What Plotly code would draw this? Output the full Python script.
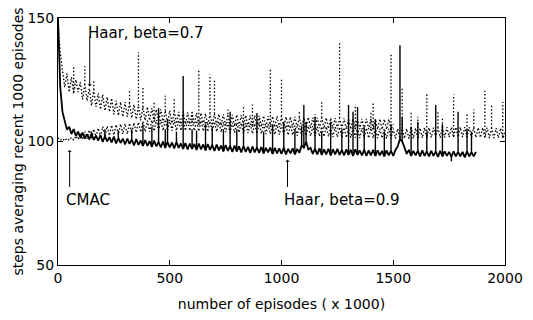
import numpy as np
import plotly.graph_objects as go

step = 10

# ---- Haar, beta=0.9 (solid) : samples every 10 (x1000 episodes) ----
haar09 = [150, 122, 112, 108.5, 104.8, 106, 103, 105, 102.2, 104,
          101.4, 103.6, 101.2, 103, 100.8, 103.2, 100.6, 102.4, 100.4, 102.6,
          99.8, 102.2, 100, 101.8, 99.6, 102, 99.2, 101.4, 99.4, 101.2,
          98.8, 101.2, 99, 100.8, 98.4, 101, 98.6, 100.4, 98.2, 100.6,
          98.2, 100.2, 97.8, 100.4, 98, 99.8, 97.6, 100, 97.4, 99.8,
          97.6, 99.6, 97.2, 99.8, 97.4, 99.2, 97, 99.4, 96.8, 99.2,
          97, 99, 96.6, 99.2, 96.8, 98.8, 96.4, 99, 96.6, 98.6,
          96.2, 98.8, 96.4, 98.4, 96, 98.6, 96.2, 98.2, 95.8, 98.4,
          96, 98, 95.6, 98.2, 95.8, 97.8, 95.4, 98, 95.6, 97.6,
          95.4, 97.8, 95.2, 97.4, 95.6, 97.6, 95, 97.4, 95.2, 97.2,
          95, 97.4, 94.8, 97, 95.2, 97.2, 94.8, 97, 95.4, 98.4,
          97.5, 100, 96.8, 97.4, 95, 97, 94.8, 97.2, 94.6, 96.8,
          94.8, 97, 94.4, 96.8, 94.8, 97, 94.6, 96.6, 94.4, 96.8,
          94.6, 96.6, 94.2, 96.8, 94.6, 96.4, 94.4, 96.6, 94.2, 96.4,
          94.4, 96.6, 94.2, 96.4, 94.4, 96.2, 94, 96.4, 94.4, 96.2,
          94.2, 96.6, 98, 101, 100, 97.6, 95, 96.6, 94.2, 96.2,
          94.4, 96.2, 94, 96.4, 94.2, 96, 94, 96.2, 94.2, 96,
          93.8, 96.2, 94, 96, 94.2, 95.8, 93.8, 96, 94, 95.8,
          94, 95.8, 93.6, 96, 94, 95.6, 94, 95.8]
spike09_x = [150, 210, 270, 330, 380, 420, 450, 480, 490, 530, 560, 600, 620, 660, 690,
             740, 770, 800, 830, 890, 920, 960, 1010, 1060, 1090, 1100, 1110, 1150, 1180,
             1220, 1270, 1300, 1320, 1340, 1370, 1420, 1460, 1490, 1530, 1540, 1580, 1610,
             1650, 1690, 1720, 1760, 1790, 1830, 1850]
spike09_top = [104, 105, 104.5, 105, 107, 106, 113.5, 105, 109, 104, 126.5, 105, 104.5, 107, 106,
               105, 112, 105, 106, 111.5, 104, 107, 108, 105, 106, 114.8, 108, 110, 104,
               108, 105, 114.8, 112, 114, 106, 109, 104, 107, 139, 110, 106, 108,
               104, 114.8, 107, 92, 112, 105, 104]

# ---- Haar, beta=0.7 (dotted) ----
haar07 = [148, 136, 129, 122, 127.5, 120, 126, 119.5, 125, 120,
          124, 117, 123, 116.5, 121.5, 114.5, 121, 114, 119.5, 113,
          119, 112.5, 118, 112, 117.5, 111, 116.5, 110.5, 116, 110,
          116, 110, 115.5, 109.5, 115, 109, 114.5, 108.5, 114, 108.5,
          114, 108.5, 113.5, 108, 113, 107.8, 113, 107.5, 112.5, 107.5,
          112.5, 107.4, 112.2, 107.2, 112, 107, 112, 107, 111.8, 107,
          111.8, 107, 111.6, 106.8, 111.5, 106.8, 111.4, 106.6, 111.3, 106.6,
          111.2, 106.6, 111.1, 106.5, 111, 106.4, 111, 106.4, 110.8, 106.2,
          110.8, 106.2, 110.7, 106.2, 110.6, 106, 110.6, 106, 110.5, 106,
          110.4, 106, 110.4, 105.8, 110.3, 105.8, 110.2, 105.8, 110.2, 105.8,
          110.2, 105.8, 110, 105.6, 110, 105.6, 110, 105.6, 109.8, 105.6,
          109.8, 105.4, 109.8, 105.4, 109.7, 105.4, 109.6, 105.4, 109.6, 105.2,
          109.6, 105.2, 109.5, 105.2, 109.5, 105.2, 109.4, 105.2, 109.4, 105,
          109.4, 105, 109.3, 105, 109.3, 105, 109.2, 105, 109.2, 105,
          109.2, 104.9, 109.1, 104.9, 109.1, 104.9, 109, 104.9, 109, 104.8,
          107]
spike07_x = [70, 120, 160, 320, 360, 380, 430, 480, 520, 630, 680, 700, 760, 830, 870,
             950, 1000, 1080, 1180, 1260, 1330, 1410, 1490]
spike07_top = [131, 130.5, 125, 120.5, 136, 122, 116, 118.5, 117.4, 128.8, 127, 125.4, 113, 114, 115,
               129, 125.4, 112, 116.6, 140.5, 115, 116, 135.6]

# ---- CMAC (dotted) ----
cmac = [101.5, 100.5, 101.2, 100.3, 101.3, 100.5, 101.6, 100.6, 102.2, 100.8,
        103.4, 100.8, 104, 101.2, 104.6, 101.4, 105, 101.8, 105.4, 102,
        106, 102, 106.2, 102.4, 106.6, 102.6, 106.8, 102.8, 107, 103,
        107.2, 103, 107.4, 103.2, 107.6, 103.6, 107.8, 103.8, 108.2, 104,
        108.4, 104, 108.6, 104.2, 108.8, 104.4, 108.8, 104.4, 108.8, 104.4,
        108.8, 104.4, 108.8, 104.4, 108.6, 104.4, 108.6, 104.4, 108.6, 104.4,
        108.6, 104.4, 108.4, 104.2, 108.4, 104.2, 108.2, 104, 108.2, 104,
        108, 104, 108, 103.8, 107.8, 103.8, 107.8, 103.6, 107.6, 103.6,
        107.6, 103.6, 107.4, 103.4, 107.4, 103.4, 107.2, 103.2, 107.2, 103.2,
        107.2, 103.2, 107, 103, 107, 103, 106.8, 102.8, 106.8, 102.8,
        106.8, 102.8, 106.6, 102.6, 106.6, 102.6, 106.4, 102.4, 106.4, 102.4,
        106.4, 102.4, 106.2, 102.2, 106.2, 102.2, 106, 102, 106, 102,
        106, 102, 105.8, 101.8, 105.8, 101.8, 105.8, 101.6, 105.6, 101.6,
        105.6, 101.6, 105.6, 101.6, 105.6, 101.4, 105.4, 101.4, 105.4, 101.4,
        105.4, 101.4, 105.4, 101.4, 105.2, 101.4, 105.2, 101.2, 105.2, 101.2,
        105.2, 101.2, 105.2, 101.2, 105.2, 101.2, 105.2, 101.2, 105.4, 101.2,
        105.4, 101.2, 105.4, 101.4, 105.6, 101.4, 105.6, 101.6, 105.6, 101.6,
        105.6, 101.6, 105.8, 101.6, 105.8, 101.8, 105.8, 101.8, 105.8, 101.8,
        105.8, 101.8, 105.8, 101.8, 105.8, 101.6, 105.6, 101.6, 105.6, 101.6,
        105.6, 101.6, 105.6, 101.4, 105.4, 101.4, 105.4, 101.4, 105.4, 101.4,
        103.5]
spikec_x = [600, 900, 1150, 1400, 1540, 1580, 1610, 1650, 1700, 1720, 1770, 1830, 1860,
            1910, 1940, 1990]
spikec_top = [112, 110, 111, 112, 122, 112, 110, 119, 112, 110, 119, 111, 113,
              120.5, 114.8, 116]

x_ticks = [0, 500, 1000, 1500, 2000]
y_ticks = [50, 100, 150]

FONT = "DejaVu Sans"


def xs(n):
    return np.arange(n) * step


def spike_segments(base, sx, stop):
    px, py = [], []
    for x, t in zip(sx, stop):
        px += [x, x, None]
        py += [base[x // step], t, None]
    return px, py


fig = go.Figure()
DOT = "1.5px,2px"
for base, sx, st in [(cmac, spikec_x, spikec_top), (haar07, spike07_x, spike07_top)]:
    fig.add_trace(go.Scatter(x=xs(len(base)), y=base, mode="lines",
                             line=dict(color="black", width=1.3, dash=DOT)))
    px, py = spike_segments(base, sx, st)
    fig.add_trace(go.Scatter(x=px, y=py, mode="lines",
                             line=dict(color="black", width=1.3, dash=DOT)))

fig.add_trace(go.Scatter(x=xs(len(haar09)), y=haar09, mode="lines",
                         line=dict(color="black", width=1.8)))
px, py = spike_segments(haar09, spike09_x, spike09_top)
fig.add_trace(go.Scatter(x=px, y=py, mode="lines", line=dict(color="black", width=1.4)))

tf = dict(size=14, family=FONT, color="black")
af = dict(size=15, family=FONT, color="black")
fig.add_annotation(x=124, y=143.8, text="Haar, beta=0.7", showarrow=False,
                   xanchor="left", yanchor="middle", font=af)
fig.add_annotation(x=29, y=76.5, text="CMAC", showarrow=False,
                   xanchor="left", yanchor="middle", font=af)
fig.add_annotation(x=1004, y=76.5, text="Haar, beta=0.9", showarrow=False,
                   xanchor="left", yanchor="middle", font=af)
arrows = [(142, 122.3, 142, 143), (52, 96.6, 52, 81), (1027, 92.7, 1027, 81)]
for hx, hy, tx, ty in arrows:
    fig.add_annotation(x=hx, y=hy, ax=tx, ay=ty, axref="x", ayref="y", text="",
                       showarrow=True, arrowhead=1, arrowsize=0.7, arrowwidth=1,
                       arrowcolor="black")

fig.update_layout(
    width=533, height=320,
    margin=dict(l=58, r=23, t=10, b=48),
    paper_bgcolor="white", plot_bgcolor="white",
    showlegend=False,
    font=dict(family=FONT, size=14, color="black"),
)
common = dict(ticks="inside", ticklen=5, showline=True, linecolor="black", linewidth=1,
              mirror="ticks", showgrid=False, zeroline=False, tickcolor="black",
              tickfont=tf, ticklabeloverflow="allow")
fig.update_xaxes(range=[0, 2000], tickvals=x_ticks,
                 title=dict(text="number of episodes ( x 1000)", standoff=14, font=tf), **common)
fig.update_yaxes(range=[50, 150], tickvals=y_ticks,
                 title=dict(text="steps averaging recent 1000 episodes", standoff=0, font=tf), **common)

fig.write_html("out.html", config={"displayModeBar": False},
               post_script="document.body.style.margin='0';")
